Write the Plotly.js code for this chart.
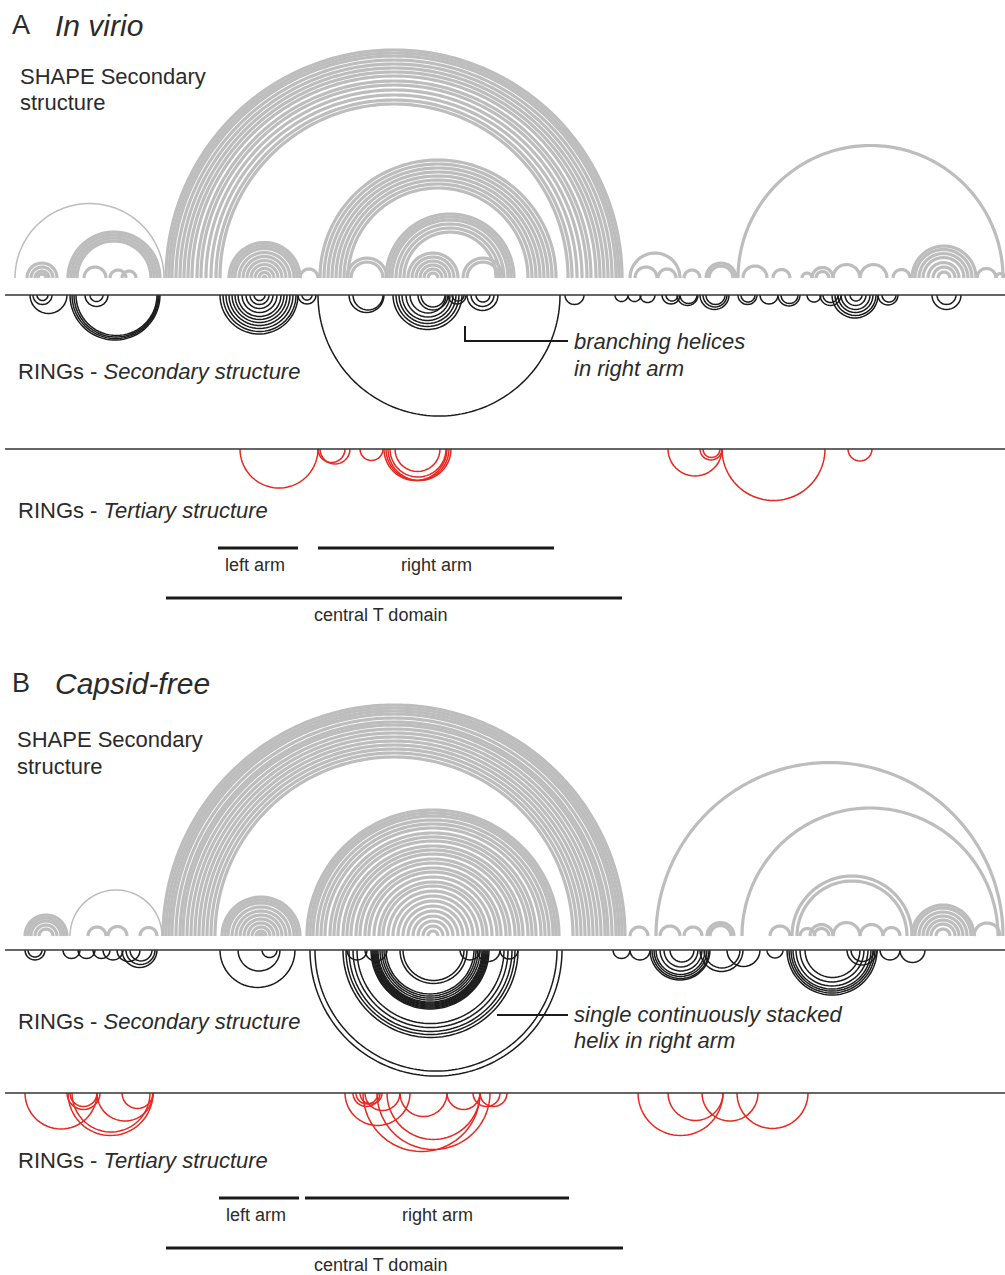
<!DOCTYPE html>
<html>
<head>
<meta charset="utf-8">
<script src="https://cdn.plot.ly/plotly-3.0.1.min.js"></script>
<style>
  html, body { margin: 0; padding: 0; background: #ffffff; }
  #chart { width: 1005px; height: 1275px; }
</style>
</head>
<body>
<div id="chart"></div>
<script>
// ---------------- DATA (arc endpoints, sequence position units) ----------------
// Panel A (In virio) - SHAPE secondary structure arcs (drawn above axis)
const shapeA_thin = [[15,164]];
const shapeA_thick = [
  [27,57],[31,53],[35,49],[38,46],
  [68,160],[71,157],[74,154],[77,151],[84,106],[110,126],[122,136],
  [166,622],[169,619],[172,616],[176,612],[180,608],[184,604],[188,600],[192,596],[197,591],[201,587],[206,582],[211,577],[216,572],[220,568],
  [229,300],[232,297],[235,294],[239,290],[243,286],[247,282],[251,278],[255,274],[259,270],[263,266],[300,318],
  [320,556],[324,552],[328,548],[332,544],[336,540],[340,536],[344,532],[348,528],
  [347,387],[351,383],
  [386,514],[389,511],[392,508],[396,504],[400,500],[404,496],
  [408,458],[412,454],[416,450],[420,446],[424,442],[428,438],
  [463,503],[467,499],
  [630,680],[635,657],[658,676],[684,700],[706,736],[709,733],
  [738,1003],
  [743,767],[773,790],[802,812],[812,833],[816,829],[833,860],[860,887],[893,910],
  [912,976],[915,972],[919,968],[923,964],[928,959],[933,955],[938,950],
  [977,996],[996,1005]
];
// Panel A - RINGs secondary structure (below axis)
const ringsSecA = [
  [30,67],[33,52],[37,48],
  [70,160],[72,159],[74,158],[76,157],[85,108],[90,103],
  [220,298],[223,296],[226,293],[229,290],[232,287],[235,284],[238,281],[242,277],[246,273],[250,269],[254,265],
  [298,316],[302,312],
  [318,560],
  [349,384],[353,383],
  [393,462],[396,459],[399,456],[402,453],[406,450],[410,446],[418,448],[421,445],[448,466],[452,464],
  [467,498],[471,494],[476,490],
  [565,584],
  [615,628],[628,641],[640,655],[662,680],[666,678],[677,698],[680,697],
  [700,729],[703,727],[706,725],[738,757],[741,755],[760,778],[778,800],[781,798],
  [807,821],[820,841],[823,838],[832,878],[835,876],[838,873],[841,870],[845,866],[850,862],
  [878,898],[882,896],[932,961],[937,956]
];
// Panel A - RINGs tertiary structure (below axis)
const ringsTerA = [
  [240,318],[318,345],[320,350],[360,383],
  [384,447],[386,449],[388,451],[390,446],[395,440],
  [668,722],[700,722],[703,720],[722,825],[848,872]
];

// Panel B (Capsid-free) - SHAPE secondary structure arcs
const shapeB_thin = [[70,162]];
const shapeB_thick = [
  [25,67],[28,64],[31,61],[35,57],[39,53],
  [88,106],[108,127],[140,157],
  [163,625],[166,622],[169,619],[172,616],[176,612],[180,608],[183,605],[187,601],[191,597],[195,593],[199,589],[203,585],[207,581],[211,577],[215,573],
  [222,300],[225,297],[228,294],[232,290],[236,286],[240,282],[244,278],[248,274],[252,270],[256,266],[259,263],
  [307,559],[310,556],[313,553],[317,549],[321,545],[325,541],[330,536],[334,532],[338,528],[343,523],[347,519],[351,515],[356,510],
  [360,506],[365,501],[369,497],[374,492],[379,487],[383,483],[388,478],[393,473],[398,468],[403,463],[408,458],[413,453],[418,448],[423,443],[428,438],
  [630,648],[656,1003],[660,680],[684,702],[707,734],[710,731],[742,998],[770,790],
  [792,912],[797,907],[800,815],[810,833],[814,829],[833,860],[860,883],[883,900],
  [912,974],[915,971],[919,967],[923,963],[927,959],[931,955],[936,950],[974,1000]
];
// Panel B - RINGs secondary structure
const ringsSecB = [
  [25,45],[28,42],
  [63,80],[78,95],[93,110],[103,123],[117,140],[122,157],[126,155],[130,152],
  [220,295],[238,280],[262,277],
  [310,562],[315,557],
  [343,518],[346,515],[349,512],[353,508],[357,504],
  [371,489],[372,488],[373,487],[374,486],[375,485],[376,484],[377,483],[378,482],[380,480],[382,478],[384,476],[386,474],
  [400,467],[403,464],
  [347,367],[365,387],[460,480],[477,500],[500,518],
  [613,630],[630,650],[650,710],[652,709],[654,707],[656,705],[660,702],[664,698],[670,694],
  [700,743],[704,740],[727,760],[767,783],
  [787,877],[789,875],[791,873],[793,871],[796,868],[800,864],[805,860],[847,877],[851,874],
  [880,900],[900,925]
];
// Panel B - RINGs tertiary structure
const ringsTerB = [
  [25,97],[67,100],[70,97],[68,153],[72,150],[97,153],[122,153],
  [345,410],[353,380],[356,378],[360,382],[365,400],[363,480],[377,490],[387,480],[400,447],[447,480],[473,500],[480,507],
  [638,723],[668,723],[702,758],[737,808]
];

// Domain bars
const domainNames = ["left arm", "right arm", "central T domain"];
const domainStartA = [218, 318, 166];
const domainEndA   = [298, 554, 622];
const domainStartB = [219, 305, 166];
const domainEndB   = [299, 569, 623];

// ---------------- LAYOUT CONSTANTS (page units) ----------------
const panelA = {shapeBase: 278, secLine: 295, terLine: 449, armBar: 548, domainBar: 598};
const panelB = {shapeBase: 936, secLine: 950, terLine: 1093, armBar: 1198, domainBar: 1248};
const labelShift = [-3, 0, -14];   // small horizontal nudge of the domain labels

const GRAY = '#bdbdbd', BLACK = '#1c1c1c', RED = '#e8271f', TXT = '#2b2b2b';
const FONT = 'Liberation Sans, Arial, Helvetica, sans-serif';

function arcTrace(pairs, base, dir, color, width) {
  const xs = [], ys = [];
  pairs.forEach(([i, j]) => {
    const c = (i + j) / 2, r = (j - i) / 2;
    const n = Math.max(18, Math.round(r * 0.9));
    for (let k = 0; k <= n; k++) {
      const t = Math.PI * k / n;
      xs.push(c - r * Math.cos(t));
      ys.push(base + dir * r * Math.sin(t));
    }
    xs.push(null); ys.push(null);
  });
  return {type: 'scatter', mode: 'lines', x: xs, y: ys,
          line: {color: color, width: width, simplify: false},
          hoverinfo: 'skip', showlegend: false};
}

function domainTraces(starts, ends, armY, domY) {
  return starts.map((s, k) => ({
    type: 'scatter', mode: 'lines',
    x: [s, ends[k]], y: [k < 2 ? armY : domY, k < 2 ? armY : domY],
    line: {color: '#1a1a1a', width: 3}, hoverinfo: 'skip', showlegend: false
  }));
}

const traces = [
  arcTrace(shapeA_thin, panelA.shapeBase, -1, GRAY, 1.5),
  arcTrace(shapeA_thick, panelA.shapeBase, -1, GRAY, 3.2),
  arcTrace(ringsSecA, panelA.secLine, 1, BLACK, 1.5),
  arcTrace(ringsTerA, panelA.terLine, 1, RED, 1.5),
  arcTrace(shapeB_thin, panelB.shapeBase, -1, GRAY, 1.5),
  arcTrace(shapeB_thick, panelB.shapeBase, -1, GRAY, 3.2),
  arcTrace(ringsSecB, panelB.secLine, 1, BLACK, 1.5),
  arcTrace(ringsTerB, panelB.terLine, 1, RED, 1.5),
  ...domainTraces(domainStartA, domainEndA, panelA.armBar, panelA.domainBar),
  ...domainTraces(domainStartB, domainEndB, panelB.armBar, panelB.domainBar)
];

function hline(y) {
  return {type: 'line', xref: 'paper', yref: 'y', x0: 0.005, x1: 1, y0: y, y1: y,
          line: {color: '#333333', width: 1.6}, layer: 'above'};
}

const shapes = [
  hline(panelA.secLine), hline(panelA.terLine), hline(panelB.secLine), hline(panelB.terLine),
  {type: 'path', xref: 'x', yref: 'y', path: 'M 465 326 L 465 341 L 568 341',
   line: {color: '#1a1a1a', width: 2}},
  {type: 'line', xref: 'x', yref: 'y', x0: 497, x1: 568, y0: 1015, y1: 1015,
   line: {color: '#1a1a1a', width: 2}}
];

function txt(x, y, text, size, opts) {
  return Object.assign({x: x, y: y, xref: 'x', yref: 'y', text: text, showarrow: false,
    xanchor: 'left', yanchor: 'middle', font: {family: FONT, size: size, color: TXT}}, opts || {});
}

const annotations = [
  txt(10, 25, 'A', 27),
  txt(53, 25, '<i>In virio</i>', 30),
  txt(18, 76, 'SHAPE Secondary', 22),
  txt(18, 102, 'structure', 22),
  txt(16, 371, 'RINGs - <i>Secondary structure</i>', 22),
  txt(572, 341, '<i>branching helices</i>', 22),
  txt(572, 368, '<i>in right arm</i>', 22),
  txt(16, 510, 'RINGs - <i>Tertiary structure</i>', 22),
  txt(10, 683, 'B', 27),
  txt(53, 683, '<i>Capsid-free</i>', 30),
  txt(15, 739, 'SHAPE Secondary', 22),
  txt(15, 766, 'structure', 22),
  txt(16, 1021, 'RINGs - <i>Secondary structure</i>', 22),
  txt(572, 1014, '<i>single continuously stacked</i>', 22),
  txt(572, 1040, '<i>helix in right arm</i>', 22),
  txt(16, 1160, 'RINGs - <i>Tertiary structure</i>', 22)
];
domainNames.forEach((nm, k) => {
  annotations.push(txt((domainStartA[k] + domainEndA[k]) / 2 + labelShift[k], (k < 2 ? panelA.armBar : panelA.domainBar) + 17, nm, 18, {xanchor: 'center'}));
  annotations.push(txt((domainStartB[k] + domainEndB[k]) / 2 + labelShift[k], (k < 2 ? panelB.armBar : panelB.domainBar) + 17, nm, 18, {xanchor: 'center'}));
});

const layout = {
  width: 1005, height: 1275,
  margin: {l: 0, r: 0, t: 0, b: 0, pad: 0},
  paper_bgcolor: '#ffffff', plot_bgcolor: '#ffffff',
  xaxis: {range: [0, 1005], visible: false, fixedrange: true},
  yaxis: {range: [1275, 0], visible: false, fixedrange: true},
  showlegend: false,
  shapes: shapes,
  annotations: annotations
};

Plotly.newPlot('chart', traces, layout, {staticPlot: true, displayModeBar: false});
</script>
</body>
</html>
